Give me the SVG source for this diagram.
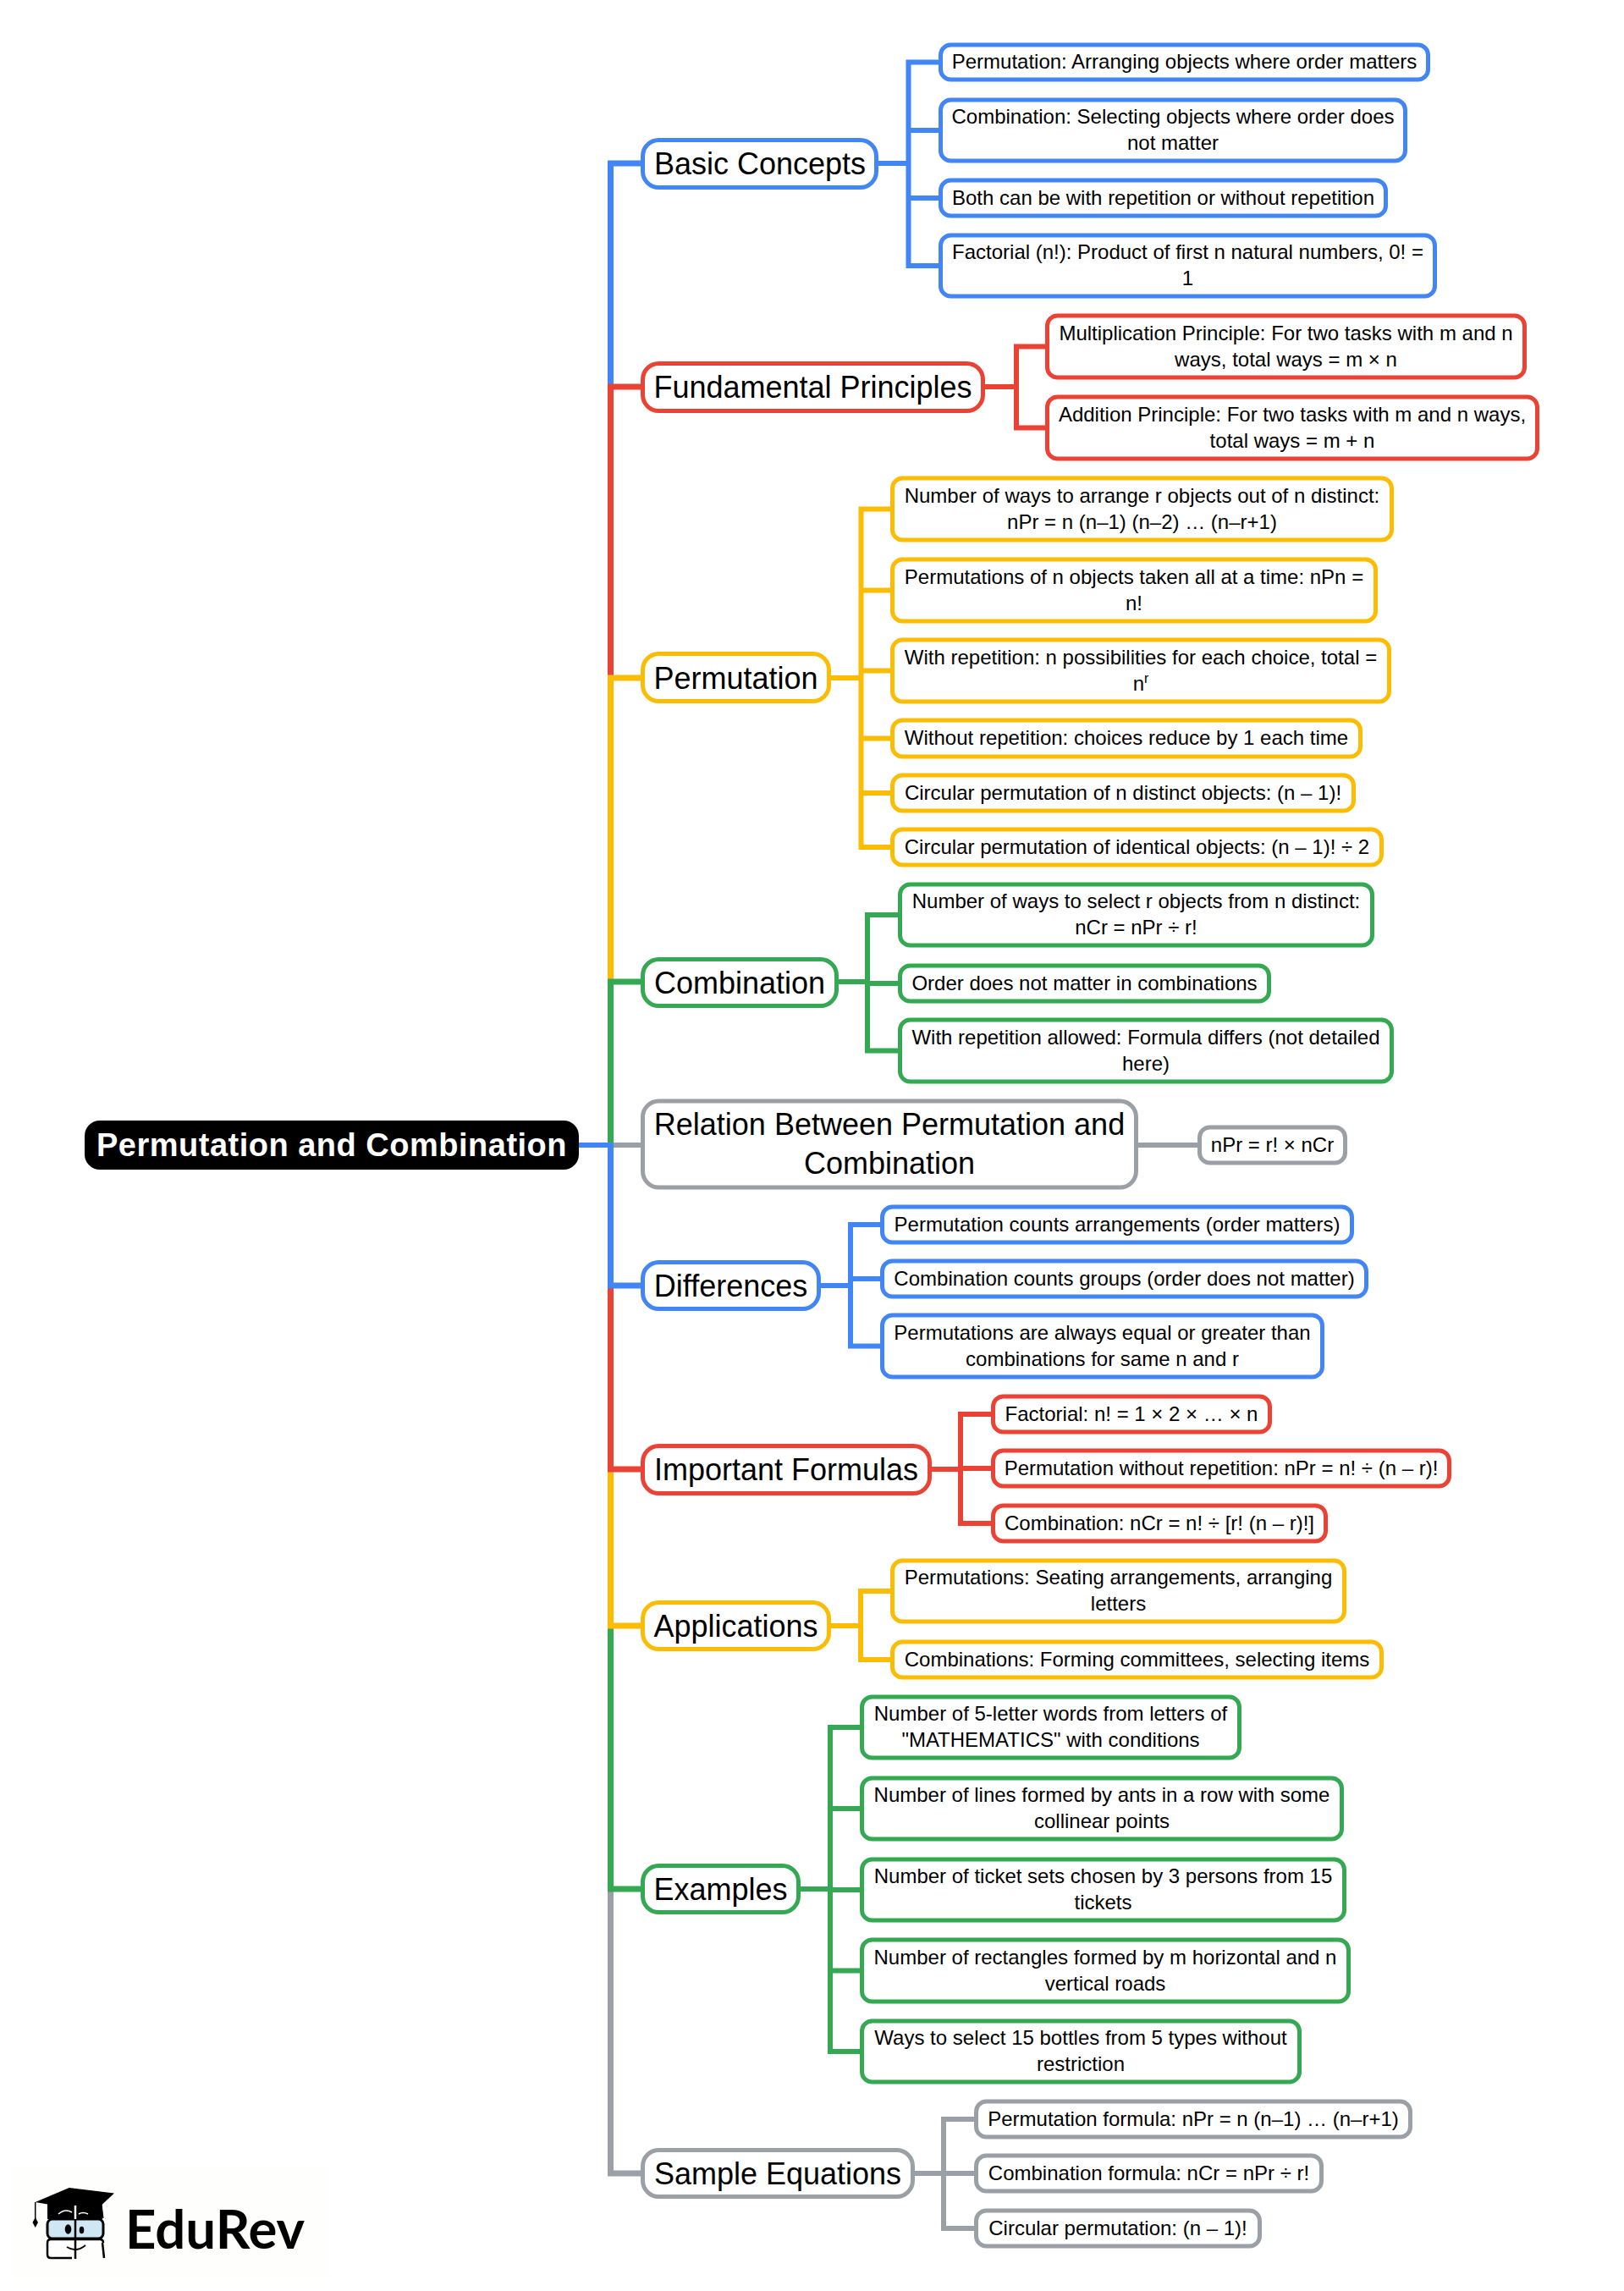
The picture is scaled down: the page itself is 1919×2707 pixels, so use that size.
<svg xmlns="http://www.w3.org/2000/svg" width="1919" height="2707" viewBox="0 0 1919 2707">
<style>
text{font-family:"Liberation Sans",Arial,sans-serif;fill:#000;text-anchor:middle}
.l text{font-size:24px;transform:translateY(.5px)}
.m text{font-size:36px;transform:translateY(.7px)}
.r text{font-size:38px;font-weight:700;fill:#fff;letter-spacing:.5px}
rect{fill:#fff;stroke-width:5}
.b rect{stroke:#4285f4}.e rect{stroke:#ea4335}.y rect{stroke:#fbbc04}.g rect{stroke:#34a853}.a rect{stroke:#9aa0a6}
.l rect{rx:12px}
.m rect{rx:19px}
#connectors path{fill:none;stroke-width:6}
.cb{stroke:#4285f4}.ce{stroke:#ea4335}.cy{stroke:#fbbc04}.cg{stroke:#34a853}.ca{stroke:#9aa0a6}
#connectors .t{stroke-width:7}
</style>
<rect x="13" y="2560" width="377" height="132" style="fill:#fefefc;stroke:none"/>
<g id="connectors">
<path class="t cb" d="M721.5 1353V193H759"/>
<path class="t ce" d="M721.5 1353V457H759"/>
<path class="t cy" d="M721.5 1353V801H759"/>
<path class="t cg" d="M721.5 1353V1160H759"/>
<path class="t ca" d="M721.5 1353V2568H759"/>
<path class="t cg" d="M721.5 1353V2232H759"/>
<path class="t cy" d="M721.5 1353V1921H759"/>
<path class="t ce" d="M721.5 1353V1736H759"/>
<path class="t cb" d="M721.5 1353V1519H759"/>
<path class="ca" d="M721 1353H759"/>
<path class="cb" d="M683 1353H725"/>
<path class="cb" d="M1036 193H1073.500M1111 73.500H1073.500V314H1111M1073.500 154H1111M1073.500 234H1111"/>
<path class="ce" d="M1162 457H1201M1237 409.500H1201V505.500H1237"/>
<path class="cy" d="M980 801H1017.500M1054 601.500H1017.500V1001H1054M1017.500 697.500H1054M1017.500 792.500H1054M1017.500 872.500H1054M1017.500 937H1054"/>
<path class="cg" d="M989 1160H1025M1063 1081H1025V1241.500H1063M1025 1162H1063"/>
<path class="ca" d="M1343 1353H1417"/>
<path class="cb" d="M968 1519H1005M1042 1447H1005V1590.500H1042M1005 1511H1042"/>
<path class="ce" d="M1099 1736H1135M1173 1671H1135V1800H1173M1135 1735H1173"/>
<path class="cy" d="M980 1921H1017M1054 1880H1017V1961H1054"/>
<path class="cg" d="M944 2232H981M1018 2041H981V2424H1018M981 2137H1018M981 2233H1018M981 2328.500H1018"/>
<path class="ca" d="M1079 2568H1115M1153 2504H1115V2633H1153M1115 2568H1153"/>
</g>
<g id="root" class="r"><rect x="100" y="1324" width="584" height="58" rx="18" style="fill:#000;stroke:none"/><text x="392" y="1366">Permutation and Combination</text></g>

<g id="basic" class="m b"><rect x="759.500" y="165.500" width="276" height="56"/><text x="898" y="205">Basic Concepts</text></g>
<g id="basic-1" class="l b"><rect x="1111.500" y="53" width="576" height="41"/><text x="1399.500" y="80.500">Permutation: Arranging objects where order matters</text></g>
<g id="basic-2" class="l b"><rect x="1111.500" y="118" width="549" height="72"/><text x="1386" y="145.500">Combination: Selecting objects where order does</text><text x="1386" y="176.500">not matter</text></g>
<g id="basic-3" class="l b"><rect x="1111.500" y="213" width="526" height="42"/><text x="1374.500" y="241">Both can be with repetition or without repetition</text></g>
<g id="basic-4" class="l b"><rect x="1111.500" y="278" width="584" height="72"/><text x="1403.500" y="305.500">Factorial (n!): Product of first n natural numbers, 0! =</text><text x="1403.500" y="336.500">1</text></g>

<g id="fund" class="m e"><rect x="759.500" y="429.500" width="402" height="56"/><text x="960.500" y="469">Fundamental Principles</text></g>
<g id="fund-1" class="l e"><rect x="1237.500" y="373" width="564" height="73"/><text x="1519.500" y="401">Multiplication Principle: For two tasks with m and n</text><text x="1519.500" y="432">ways, total ways = m × n</text></g>
<g id="fund-2" class="l e"><rect x="1237.500" y="469" width="579" height="73"/><text x="1527" y="497">Addition Principle: For two tasks with m and n ways,</text><text x="1527" y="528">total ways = m + n</text></g>

<g id="perm" class="m y"><rect x="759.500" y="772.500" width="220" height="56"/><text x="869.500" y="813">Permutation</text></g>
<g id="perm-1" class="l y"><rect x="1054.500" y="565" width="590" height="73"/><text x="1349.500" y="593">Number of ways to arrange r objects out of n distinct:</text><text x="1349.500" y="624">nPr = n (n–1) (n–2) … (n–r+1)</text></g>
<g id="perm-2" class="l y"><rect x="1054.500" y="661" width="571" height="73"/><text x="1340" y="689">Permutations of n objects taken all at a time: nPn =</text><text x="1340" y="720">n!</text></g>
<g id="perm-3" class="l y"><rect x="1054.500" y="756" width="587" height="73"/><text x="1348" y="784">With repetition: n possibilities for each choice, total =</text><text x="1348" y="815">n<tspan font-size="16" dy="-9">r</tspan></text></g>
<g id="perm-4" class="l y"><rect x="1054.500" y="851" width="553" height="43"/><text x="1331" y="879.500">Without repetition: choices reduce by 1 each time</text></g>
<g id="perm-5" class="l y"><rect x="1054.500" y="916" width="545" height="42"/><text x="1327" y="944">Circular permutation of n distinct objects: (n – 1)!</text></g>
<g id="perm-6" class="l y"><rect x="1054.500" y="980" width="578" height="42"/><text x="1343.500" y="1008">Circular permutation of identical objects: (n – 1)! ÷ 2</text></g>

<g id="comb" class="m g"><rect x="759.500" y="1133.500" width="229" height="55"/><text x="874" y="1173">Combination</text></g>
<g id="comb-1" class="l g"><rect x="1063.500" y="1045" width="558" height="72"/><text x="1342.500" y="1072.500">Number of ways to select r objects from n distinct:</text><text x="1342.500" y="1103.500">nCr = nPr ÷ r!</text></g>
<g id="comb-2" class="l g"><rect x="1063.500" y="1141" width="436" height="42"/><text x="1281.500" y="1169">Order does not matter in combinations</text></g>
<g id="comb-3" class="l g"><rect x="1063.500" y="1205" width="581" height="73"/><text x="1354" y="1233">With repetition allowed: Formula differs (not detailed</text><text x="1354" y="1264">here)</text></g>

<g id="rel" class="m a"><rect x="759.500" y="1301" width="583" height="102"/><text x="1051" y="1340">Relation Between Permutation and</text><text x="1051" y="1386.500">Combination</text></g>
<g id="rel-1" class="l a"><rect x="1417.500" y="1332" width="172" height="42"/><text x="1503.500" y="1360">nPr = r! × nCr</text></g>

<g id="diff" class="m b"><rect x="759.500" y="1491.500" width="208" height="55"/><text x="863.500" y="1531">Differences</text></g>
<g id="diff-1" class="l b"><rect x="1042.500" y="1426" width="555" height="42"/><text x="1320" y="1454">Permutation counts arrangements (order matters)</text></g>
<g id="diff-2" class="l b"><rect x="1042.500" y="1490" width="572" height="42"/><text x="1328.500" y="1518">Combination counts groups (order does not matter)</text></g>
<g id="diff-3" class="l b"><rect x="1042.500" y="1554" width="520" height="73"/><text x="1302.500" y="1582">Permutations are always equal or greater than</text><text x="1302.500" y="1613">combinations for same n and r</text></g>

<g id="imp" class="m e"><rect x="759.500" y="1708.500" width="339" height="56"/><text x="929" y="1748">Important Formulas</text></g>
<g id="imp-1" class="l e"><rect x="1173.500" y="1650" width="327" height="42"/><text x="1337" y="1678">Factorial: n! = 1 × 2 × … × n</text></g>
<g id="imp-2" class="l e"><rect x="1173.500" y="1714" width="539" height="42"/><text x="1443" y="1742">Permutation without repetition: nPr = n! ÷ (n – r)!</text></g>
<g id="imp-3" class="l e"><rect x="1173.500" y="1779" width="393" height="42"/><text x="1370" y="1807">Combination: nCr = n! ÷ [r! (n – r)!]</text></g>

<g id="app" class="m y"><rect x="759.500" y="1893.500" width="220" height="55"/><text x="869.500" y="1933">Applications</text></g>
<g id="app-1" class="l y"><rect x="1054.500" y="1844" width="534" height="72"/><text x="1321.500" y="1871.500">Permutations: Seating arrangements, arranging</text><text x="1321.500" y="1902.500">letters</text></g>
<g id="app-2" class="l y"><rect x="1054.500" y="1940" width="578" height="42"/><text x="1343.500" y="1968">Combinations: Forming committees, selecting items</text></g>

<g id="ex" class="m g"><rect x="759.500" y="2204.500" width="184" height="55"/><text x="851.500" y="2244">Examples</text></g>
<g id="ex-1" class="l g"><rect x="1018.500" y="2005" width="446" height="72"/><text x="1241.500" y="2032.500">Number of 5-letter words from letters of</text><text x="1241.500" y="2063.500">"MATHEMATICS" with conditions</text></g>
<g id="ex-2" class="l g"><rect x="1018.500" y="2101" width="567" height="72"/><text x="1302" y="2128.500">Number of lines formed by ants in a row with some</text><text x="1302" y="2159.500">collinear points</text></g>
<g id="ex-3" class="l g"><rect x="1018.500" y="2197" width="570" height="72"/><text x="1303.500" y="2224.500">Number of ticket sets chosen by 3 persons from 15</text><text x="1303.500" y="2255.500">tickets</text></g>
<g id="ex-4" class="l g"><rect x="1018.500" y="2292" width="575" height="73"/><text x="1306" y="2320">Number of rectangles formed by m horizontal and n</text><text x="1306" y="2351">vertical roads</text></g>
<g id="ex-5" class="l g"><rect x="1018.500" y="2388" width="517" height="72"/><text x="1277" y="2415.500">Ways to select 15 bottles from 5 types without</text><text x="1277" y="2446.500">restriction</text></g>

<g id="sample" class="m a"><rect x="759.500" y="2540.500" width="319" height="55"/><text x="919" y="2580">Sample Equations</text></g>
<g id="sample-1" class="l a"><rect x="1153.500" y="2483" width="513" height="42"/><text x="1410" y="2511">Permutation formula: nPr = n (n–1) … (n–r+1)</text></g>
<g id="sample-2" class="l a"><rect x="1153.500" y="2547" width="408" height="42"/><text x="1357.500" y="2575">Combination formula: nCr = nPr ÷ r!</text></g>
<g id="sample-3" class="l a"><rect x="1153.500" y="2612" width="335" height="42"/><text x="1321" y="2640">Circular permutation: (n – 1)!</text></g>

<g id="logo">
<path d="M56 2603H112L120 2610L121 2622H56Z" fill="#000"/>
<path d="M41.700 2602L81.700 2585L135 2591.500L110.700 2614Z" fill="#000"/>
<path d="M110.700 2614L120 2604L122 2621" fill="#000" stroke="#000" stroke-width="1"/>
<path d="M41.700 2602V2622" stroke="#000" stroke-width="1.500" fill="none"/>
<path d="M41.700 2620L45 2626L41.700 2632L38.500 2626Z" fill="#000"/>
<rect x="56" y="2622" width="66" height="23" rx="6" style="fill:#cfe6f5;stroke:#000;stroke-width:3"/>
<path d="M56 2650V2664Q56 2668 60 2668H85M56 2650Q56 2646 60 2646H118Q122 2646 122 2650M121 2650L123 2668M89 2622V2669" fill="none" stroke="#000" stroke-width="2.500"/>
<path d="M89 2606V2622" stroke="#fff" stroke-width="2.500"/>
<ellipse cx="80.500" cy="2634" rx="3.800" ry="5.700" fill="#000"/>
<ellipse cx="96.500" cy="2635" rx="2.800" ry="4.300" fill="#000"/>
<path d="M79 2655Q90 2662 101 2653" fill="none" stroke="#000" stroke-width="1.800"/>
<path d="M69 2616Q77 2609 85 2614M93 2616Q98 2613 104 2616" fill="none" stroke="#fff" stroke-width="1.500"/>
<text x="254" y="2656.500" style="font-family:Lato,sans-serif;font-size:63.500px;font-weight:700">EduRev</text>
</g>
</svg>
